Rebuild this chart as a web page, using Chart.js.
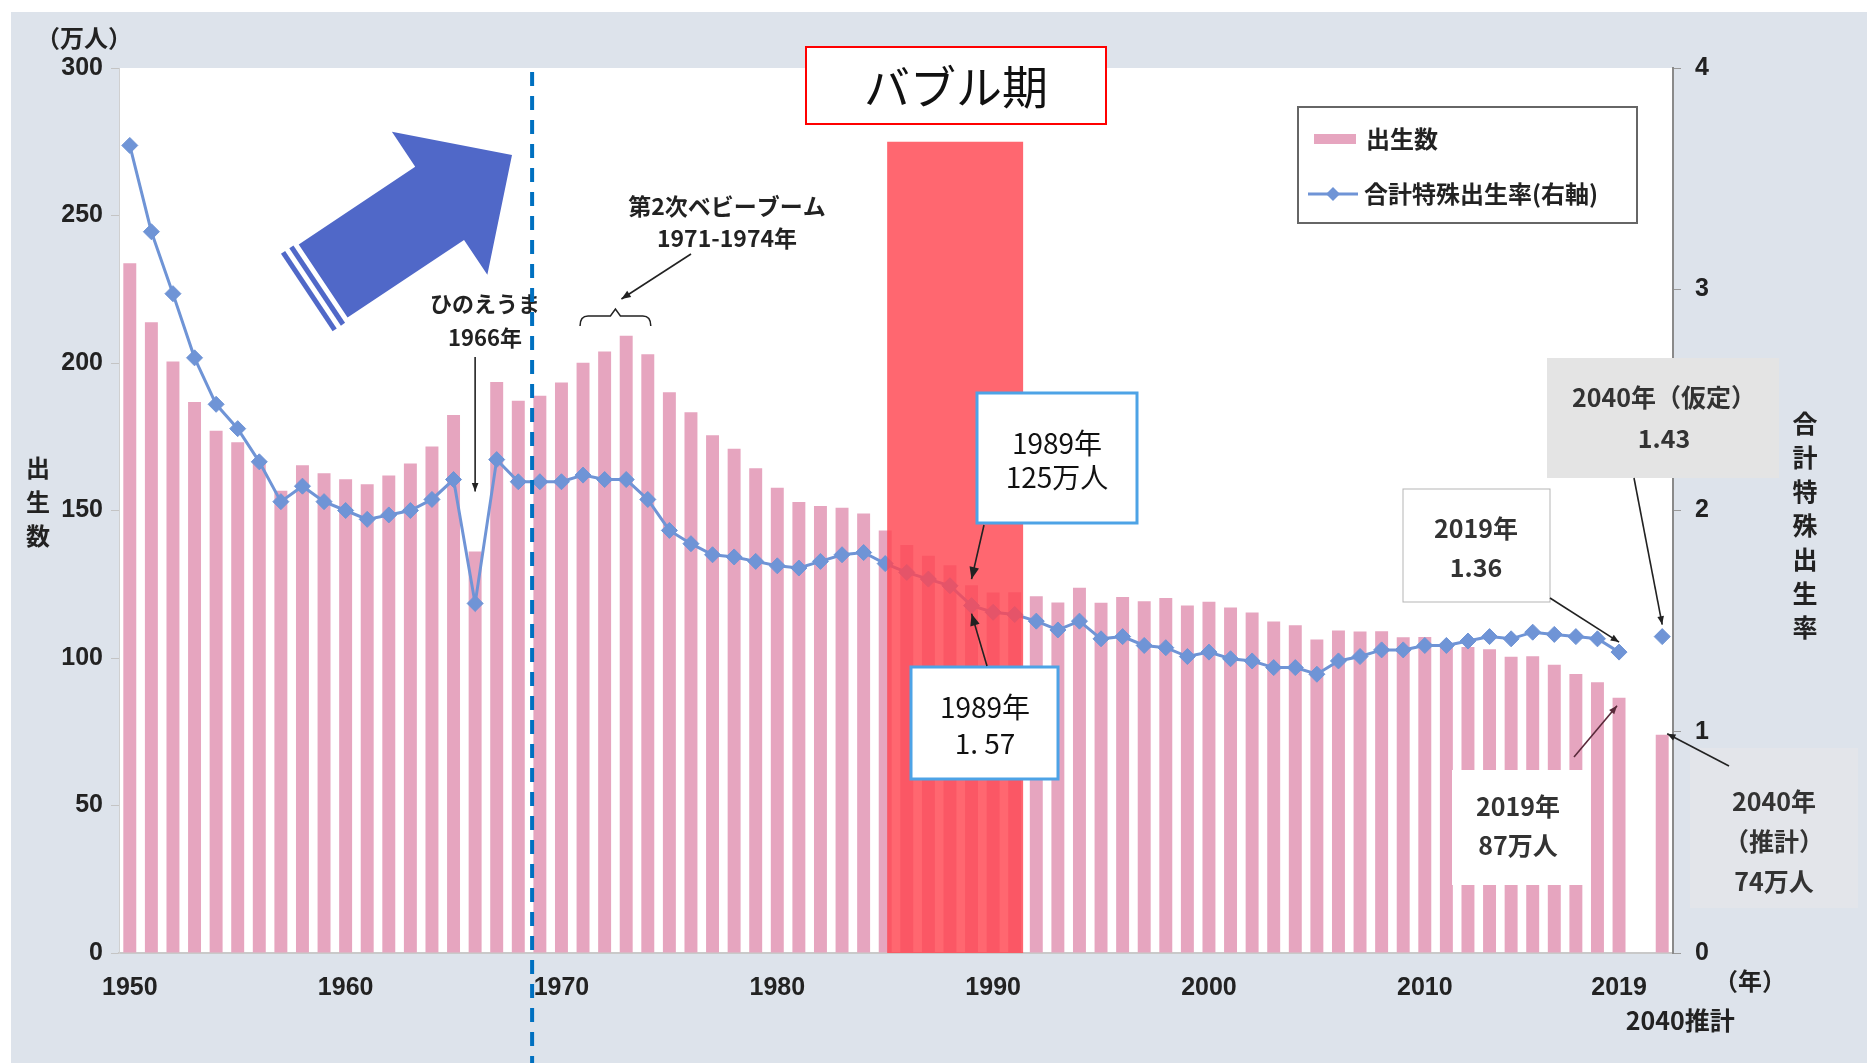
<!DOCTYPE html>
<html>
<head>
<meta charset="utf-8">
<script src="https://cdn.jsdelivr.net/npm/chart.js@4.4.0/dist/chart.umd.min.js"></script>
<style>
  body { margin: 0; background: #fff; }
  canvas { display: block; }
</style>
</head>
<body>
<canvas id="myChart" width="1867" height="1063"></canvas>
<script>
const JP = '"Noto Sans CJK JP", "Noto Sans", sans-serif';
const NUM = '"Liberation Sans", Arial, sans-serif';

// categories: 1950-2019, one empty slot, then the 2040 projection
const years = [
  '1950','1951','1952','1953','1954','1955','1956','1957','1958','1959',
  '1960','1961','1962','1963','1964','1965','1966','1967','1968','1969',
  '1970','1971','1972','1973','1974','1975','1976','1977','1978','1979',
  '1980','1981','1982','1983','1984','1985','1986','1987','1988','1989',
  '1990','1991','1992','1993','1994','1995','1996','1997','1998','1999',
  '2000','2001','2002','2003','2004','2005','2006','2007','2008','2009',
  '2010','2011','2012','2013','2014','2015','2016','2017','2018','2019',
  '', '2040'
];

// 出生数 (万人)
const births = [
  233.8, 213.8, 200.5, 186.8, 177.0, 173.1, 166.5, 156.7, 165.3, 162.6,
  160.6, 158.9, 161.9, 165.9, 171.7, 182.4, 136.1, 193.6, 187.2, 188.9,
  193.4, 200.1, 203.9, 209.2, 203.0, 190.1, 183.3, 175.5, 170.9, 164.3,
  157.7, 152.9, 151.5, 150.9, 149.0, 143.2, 138.3, 134.7, 131.4, 124.7,
  122.2, 122.3, 120.9, 118.8, 123.8, 118.7, 120.7, 119.2, 120.3, 117.8,
  119.1, 117.1, 115.4, 112.4, 111.1, 106.3, 109.3, 109.0, 109.1, 107.0,
  107.1, 105.1, 103.7, 103.0, 100.4, 100.6, 97.7, 94.6, 91.8, 86.5,
  null, 74.0
];

// 合計特殊出生率 (右軸)
const tfr = [
  3.65, 3.26, 2.98, 2.69, 2.48, 2.37, 2.22, 2.04, 2.11, 2.04,
  2.00, 1.96, 1.98, 2.00, 2.05, 2.14, 1.58, 2.23, 2.13, 2.13,
  2.13, 2.16, 2.14, 2.14, 2.05, 1.91, 1.85, 1.80, 1.79, 1.77,
  1.75, 1.74, 1.77, 1.80, 1.81, 1.76, 1.72, 1.69, 1.66, 1.57,
  1.54, 1.53, 1.50, 1.46, 1.50, 1.42, 1.43, 1.39, 1.38, 1.34,
  1.36, 1.33, 1.32, 1.29, 1.29, 1.26, 1.32, 1.34, 1.37, 1.37,
  1.39, 1.39, 1.41, 1.43, 1.42, 1.45, 1.44, 1.43, 1.42, 1.36,
  null, 1.43
];

const xTickLabels = ['1950','1960','1970','1980','1990','2000','2010','2019'];

const PINK = '#e6a5bf';
const BLUE = '#6f94d6';

function txt(ctx, s, x, y, size, weight, color, align) {
  ctx.font = weight + ' ' + size + 'px ' + JP;
  ctx.fillStyle = color || '#222';
  ctx.textAlign = align || 'center';
  ctx.textBaseline = 'middle';
  ctx.fillText(s, x, y);
}

function box(ctx, x, y, w, h, fill, stroke, lw) {
  ctx.fillStyle = fill;
  ctx.fillRect(x, y, w, h);
  if (stroke) {
    ctx.strokeStyle = stroke;
    ctx.lineWidth = lw;
    ctx.strokeRect(x, y, w, h);
  }
}

function arrow(ctx, x1, y1, x2, y2, head, color) {
  ctx.strokeStyle = color || '#222';
  ctx.fillStyle = color || '#222';
  ctx.lineWidth = 1.6;
  ctx.beginPath(); ctx.moveTo(x1, y1); ctx.lineTo(x2, y2); ctx.stroke();
  const a = Math.atan2(y2 - y1, x2 - x1);
  ctx.beginPath();
  ctx.moveTo(x2, y2);
  ctx.lineTo(x2 - head * Math.cos(a - 0.38), y2 - head * Math.sin(a - 0.38));
  ctx.lineTo(x2 - head * Math.cos(a + 0.38), y2 - head * Math.sin(a + 0.38));
  ctx.closePath();
  ctx.fill();
}

function poly(ctx, pts) {
  ctx.beginPath();
  ctx.moveTo(pts[0][0], pts[0][1]);
  for (let i = 1; i < pts.length; i++) ctx.lineTo(pts[i][0], pts[i][1]);
  ctx.closePath();
  ctx.fill();
}

function bigArrow(ctx) {
  const T = [512, 155], u = [0.832, -0.555], n = [0.555, 0.832];
  const headLen = 87, headHalf = 86, shaftHalf = 44, shaftLen = 140;
  const B = [T[0] - headLen * u[0], T[1] - headLen * u[1]];
  const C = [B[0] - shaftLen * u[0], B[1] - shaftLen * u[1]];
  const P = (p, du, dn) => [p[0] + du * u[0] + dn * n[0], p[1] + du * u[1] + dn * n[1]];
  ctx.fillStyle = '#5068c8';
  poly(ctx, [T, P(B, 0, headHalf), P(B, 0, shaftHalf), P(C, 0, shaftHalf),
             P(C, 0, -shaftHalf), P(B, 0, -shaftHalf), P(B, 0, -headHalf)]);
  [[-5, -10], [-15, -20]].forEach(d => {
    poly(ctx, [P(C, d[0], shaftHalf + 3), P(C, d[1], shaftHalf + 3),
               P(C, d[1], -shaftHalf - 2), P(C, d[0], -shaftHalf - 2)]);
  });
}

const bgPlugin = {
  id: 'bg',
  beforeDraw(chart) {
    const {ctx, chartArea: a} = chart;
    ctx.save();
    ctx.fillStyle = '#ffffff';
    ctx.fillRect(0, 0, chart.width, chart.height);
    ctx.fillStyle = '#dde3eb';
    ctx.fillRect(11, 12, chart.width - 11, chart.height - 12);
    ctx.fillStyle = '#e3e5ea';
    ctx.fillRect(1690, 748, 168, 160);
    ctx.fillStyle = '#ffffff';
    ctx.fillRect(a.left, a.top, a.right - a.left, a.bottom - a.top);
    ctx.restore();
  }
};

const notesPlugin = {
  id: 'notes',
  afterDatasetsDraw(chart) {
    const {ctx, chartArea: a, scales: {x, y, y2}} = chart;
    const px = yr => x.getPixelForValue(years.indexOf(yr));
    const slot = px('1951') - px('1950');
    ctx.save();

    // バブル期 band
    const bx1 = px('1985') + 0.09 * slot, bx2 = px('1991') + 0.39 * slot;
    const by = y.getPixelForValue(275);
    ctx.fillStyle = 'rgba(255,70,80,0.82)';
    ctx.fillRect(bx1, by, bx2 - bx1, a.bottom - by);

    box(ctx, 806, 47, 300, 77, '#ffffff', '#ff0000', 2);
    txt(ctx, 'バブル期', 956, 87, 46, 400, '#111');

    bigArrow(ctx);

    // ひのえうま
    txt(ctx, 'ひのえうま', 485, 304, 22, 700, '#222');
    txt(ctx, '1966年', 485, 338, 22, 700, '#222');
    arrow(ctx, px('1966'), 357, px('1966'), y2.getPixelForValue(tfr[16]) - 112, 9);

    // 第2次ベビーブーム
    txt(ctx, '第2次ベビーブーム', 727, 206, 23, 700, '#222');
    txt(ctx, '1971-1974年', 727, 238, 23, 700, '#222');
    const b1 = px('1971') - 3, b2 = px('1974') + 3, bm = (b1 + b2) / 2;
    ctx.strokeStyle = '#222'; ctx.lineWidth = 1.5;
    ctx.beginPath();
    ctx.moveTo(b1, 326); ctx.quadraticCurveTo(b1, 316, b1 + 8, 316);
    ctx.lineTo(bm - 5, 316); ctx.lineTo(bm, 309); ctx.lineTo(bm + 5, 316);
    ctx.lineTo(b2 - 8, 316); ctx.quadraticCurveTo(b2, 316, b2, 326);
    ctx.stroke();
    arrow(ctx, 691, 254, bm + 6, 299, 10);

    // 1989 births
    box(ctx, 977, 393, 160, 130, '#ffffff', '#4da3e6', 3);
    txt(ctx, '1989年', 1057, 443, 28, 400, '#111');
    txt(ctx, '125万人', 1057, 477, 28, 400, '#111');
    arrow(ctx, 984, 525, px('1989'), y.getPixelForValue(births[39]) - 6, 13);

    // 1989 TFR
    box(ctx, 911, 667, 147, 112, '#ffffff', '#4da3e6', 3);
    txt(ctx, '1989年', 985, 707, 28, 400, '#111');
    txt(ctx, '1. 57', 985, 743, 28, 400, '#111');
    arrow(ctx, 987, 666, px('1989'), y2.getPixelForValue(tfr[39]) + 8, 13);

    // 2019 TFR
    box(ctx, 1403, 489, 147, 113, '#ffffff', '#b5b5b5', 1);
    txt(ctx, '2019年', 1476, 528, 25, 700, '#333');
    txt(ctx, '1.36', 1476, 567, 25, 700, '#333');
    arrow(ctx, 1550, 598, px('2019'), y2.getPixelForValue(tfr[69]) - 10, 9);

    // 2040 TFR
    box(ctx, 1547, 358, 232, 120, '#e4e4e4');
    txt(ctx, '2040年（仮定）', 1664, 397, 25, 700, '#333');
    txt(ctx, '1.43', 1664, 438, 25, 700, '#333');
    arrow(ctx, 1634, 478, px('2040'), y2.getPixelForValue(tfr[71]) - 12, 9);

    // 2019 births
    box(ctx, 1452, 770, 133, 115, '#ffffff');
    txt(ctx, '2019年', 1518, 806, 25, 700, '#333');
    txt(ctx, '87万人', 1518, 845, 25, 700, '#333');
    arrow(ctx, 1574, 757, px('2019') - 2, y.getPixelForValue(births[69]) + 8, 9, '#5a2a3a');

    // 2040 births
    txt(ctx, '2040年', 1774, 801, 25, 700, '#333');
    txt(ctx, '（推計）', 1774, 841, 25, 700, '#333');
    txt(ctx, '74万人', 1774, 881, 25, 700, '#333');
    arrow(ctx, 1729, 766, px('2040') + 5, y.getPixelForValue(births[71]) - 1, 9);

    // axis titles
    txt(ctx, '（万人）', 84, 38, 24, 700, '#222');
    ['出', '生', '数'].forEach((c, i) => txt(ctx, c, 38, 468 + i * 34, 24, 700, '#222'));
    '合計特殊出生率'.split('').forEach((c, i) => txt(ctx, c, 1805, 423 + i * 34, 25, 700, '#222'));
    txt(ctx, '（年）', 1750, 981, 24, 700, '#222');
    txt(ctx, '2040推計', px('2040') + 18, 1020, 25, 700, '#222');

    // legend
    box(ctx, 1298, 107, 339, 116, '#ffffff', '#666666', 2);
    ctx.fillStyle = PINK;
    ctx.fillRect(1314, 134, 42, 10);
    txt(ctx, '出生数', 1366, 139, 24, 700, '#222', 'left');
    ctx.strokeStyle = BLUE; ctx.lineWidth = 3;
    ctx.beginPath(); ctx.moveTo(1308, 194); ctx.lineTo(1358, 194); ctx.stroke();
    ctx.fillStyle = BLUE;
    poly(ctx, [[1333, 187], [1340, 194], [1333, 201], [1326, 194]]);
    txt(ctx, '合計特殊出生率(右軸)', 1364, 194, 24, 700, '#222', 'left');

    // dashed marker line
    const dx = px('1968') + 0.64 * slot;
    ctx.setLineDash([14, 10]);
    ctx.strokeStyle = '#0070c0';
    ctx.lineWidth = 4;
    ctx.beginPath(); ctx.moveTo(dx, a.top + 4); ctx.lineTo(dx, chart.height); ctx.stroke();
    ctx.setLineDash([]);

    ctx.restore();
  }
};

const ctx = document.getElementById('myChart').getContext('2d');
const myChart = new Chart(ctx, {
  type: 'bar',
  data: {
    labels: years,
    datasets: [{
      type: 'line',
      label: '合計特殊出生率(右軸)',
      data: tfr,
      yAxisID: 'y2',
      borderColor: BLUE,
      backgroundColor: BLUE,
      borderWidth: 3,
      pointStyle: 'rectRot',
      pointRadius: 8,
      pointBorderWidth: 1,
      spanGaps: false,
      order: 1
    }, {
      type: 'bar',
      label: '出生数',
      data: births,
      yAxisID: 'y',
      backgroundColor: PINK,
      categoryPercentage: 1.0,
      barPercentage: 0.6,
      order: 2
    }]
  },
  options: {
    responsive: false,
    animation: false,
    layout: { padding: { top: 68 } },
    plugins: {
      legend: { display: false },
      title: { display: false },
      tooltip: { enabled: false }
    },
    scales: {
      x: {
        grid: { display: true, drawOnChartArea: false, drawTicks: false },
        border: { display: true, color: '#c9c9c9', width: 2 },
        ticks: {
          autoSkip: false,
          maxRotation: 0,
          padding: 20,
          color: '#222',
          font: { family: NUM, size: 25, weight: 'bold' },
          callback: function (value) {
            const l = this.getLabelForValue(value);
            return xTickLabels.includes(l) ? l : '';
          }
        },
        afterFit: s => { s.height = 110; }
      },
      y: {
        position: 'left',
        min: 0, max: 300,
        grid: { display: true, drawOnChartArea: false, tickLength: 8, color: '#c4c4c4' },
        border: { display: true, color: '#d0d0d0', width: 1 },
        ticks: {
          stepSize: 50, padding: 8, color: '#222',
          font: { family: NUM, size: 25, weight: 'bold' }
        },
        afterFit: s => { s.width = 119; }
      },
      y2: {
        position: 'right',
        min: 0, max: 4,
        grid: { display: true, drawOnChartArea: false, tickLength: 8, color: '#9a9a9a' },
        border: { display: true, color: '#8a8a8a', width: 2 },
        ticks: {
          stepSize: 1, padding: 14, color: '#222',
          font: { family: NUM, size: 25, weight: 'bold' }
        },
        afterFit: s => { s.width = 194; }
      }
    }
  },
  plugins: [bgPlugin, notesPlugin]
});
</script>
</body>
</html>
